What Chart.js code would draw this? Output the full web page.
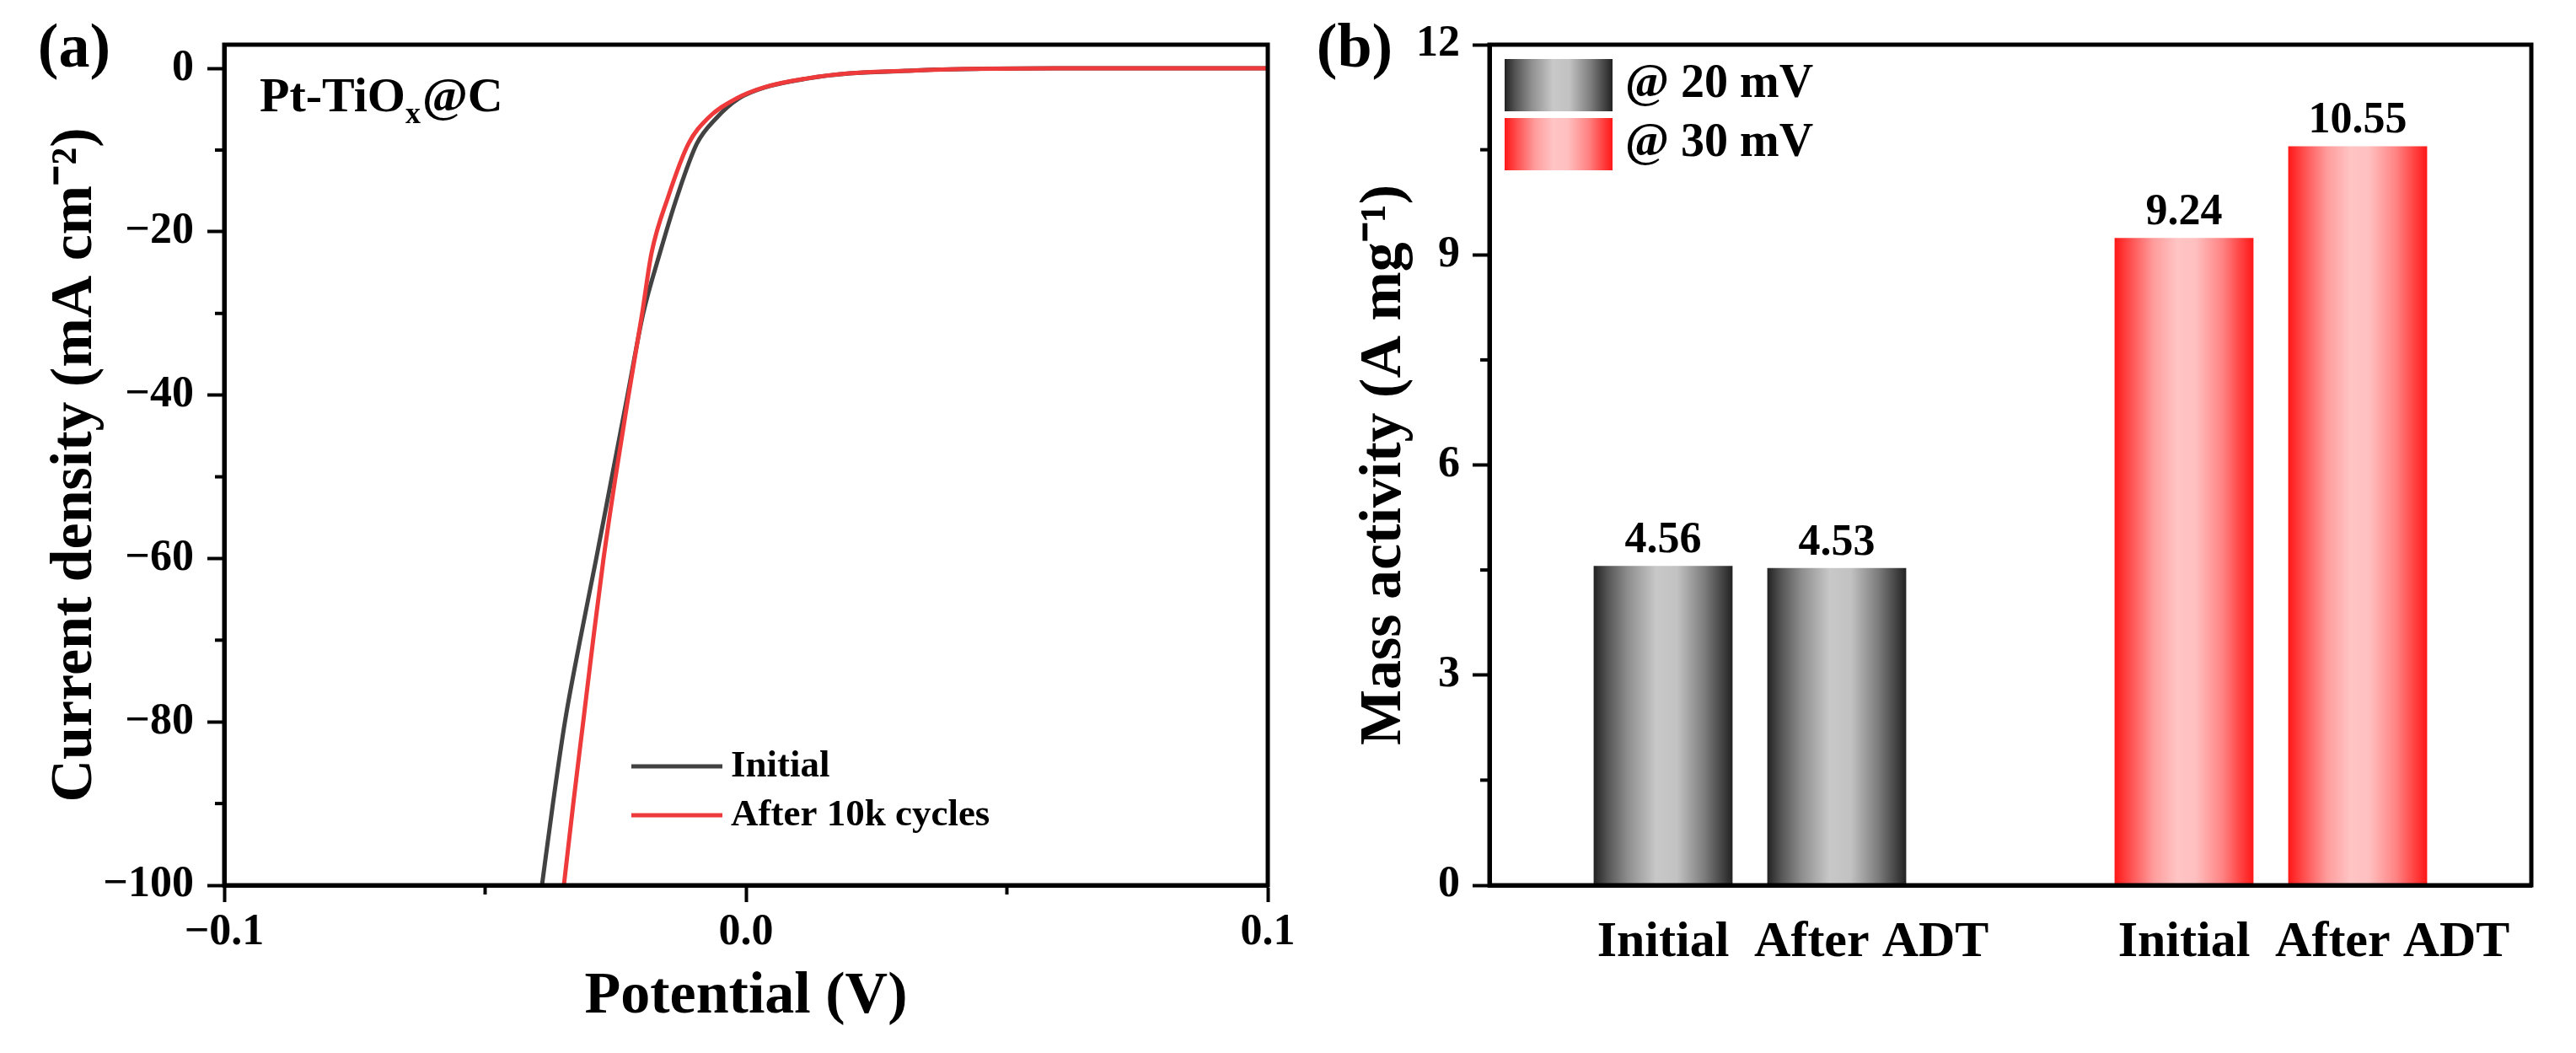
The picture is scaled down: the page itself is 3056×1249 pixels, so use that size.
<!DOCTYPE html>
<html>
<head>
<meta charset="utf-8">
<script src="https://cdn.jsdelivr.net/npm/chart.js@4.4.1/dist/chart.umd.min.js"></script>
<style>
  html, body { margin: 0; padding: 0; background: #fff; }
  #wrap { position: relative; width: 3056px; height: 1249px; }
  #wrap canvas { position: absolute; top: 0; }
  #lsv { left: 0; }
  #mass { left: 1560px; }
</style>
</head>
<body>
<div id="wrap">
  <canvas id="lsv" width="1560" height="1249"></canvas>
  <canvas id="mass" width="1496" height="1249"></canvas>
</div>
<script>
// (a) polarisation curves: potential (V) and current density (mA cm-2)
var potInitial = [-0.0391, -0.0370, -0.0347, -0.0318, -0.0287, -0.0257, -0.0227, -0.0197, -0.0165, -0.0132, -0.0094, -0.0057, -0.0014, 0.0038, 0.0118, 0.0199, 0.0306, 0.0360, 0.0450, 0.0600, 0.1000];
var curInitial = [-100, -90, -80, -70, -60, -50, -40, -30, -22.6, -15.7, -9.2, -6.1, -3.7, -2.3, -1.24, -0.62, -0.31, -0.15, -0.05, 0, 0];
var potCycled = [-0.0349, -0.0331, -0.0312, -0.0293, -0.0273, -0.0250, -0.0225, -0.0199, -0.0181, -0.0149, -0.0110, -0.0073, -0.0019, 0.0036, 0.0116, 0.0197, 0.0304, 0.0347, 0.0420, 0.0600, 0.1000];
var curCycled = [-100, -90, -80, -70, -60, -50, -40, -30, -22.6, -15.7, -9.2, -6.1, -3.7, -2.3, -1.24, -0.62, -0.31, -0.20, -0.08, 0, 0];

// (b) mass activity (A mg-1)
var groups = ['@ 20 mV', '@ 30 mV'];
var conditions = ['Initial', 'After ADT'];
var mass20 = [4.56, 4.53];
var mass30 = [9.24, 10.55];

var FONT = "'Liberation Serif', 'Times New Roman', serif";
Chart.defaults.font.family = FONT;
Chart.defaults.font.weight = 'bold';
Chart.defaults.color = '#000';

var BAR_PCT = 0.8;
var GRAY = [[0, '#222'], [0.1, '#555'], [0.25, '#8f8f8f'], [0.45, '#c8c8c8'], [0.6, '#c2c2c2'], [0.8, '#7c7c7c'], [0.92, '#464646'], [1, '#222']];
var RED = [[0, '#ff1717'], [0.12, '#ff5252'], [0.28, '#ff9c9c'], [0.45, '#ffc4c4'], [0.58, '#ffc0c0'], [0.78, '#ff8282'], [0.92, '#ff3c3c'], [1, '#ff1717']];

function minus(s) { return String(s).replace('-', '\u2212'); }

function pairs(xs, ys) {
  return xs.map(function (v, i) { return { x: v, y: ys[i] }; });
}

// slot on the group axis: one empty slot between the groups
function slot(g, c) { return g * (conditions.length + 1) + c + 1; }

function barFill(stops) {
  return function (c) {
    var chart = c.chart, xs = chart.scales.x;
    if (!chart.chartArea || !c.parsed || !xs) return stops[3][1];
    var cx = xs.getPixelForValue(c.parsed.x);
    var half = (xs.getPixelForValue(1) - xs.getPixelForValue(0)) * BAR_PCT / 2;
    var g = chart.ctx.createLinearGradient(cx - half, 0, cx + half, 0);
    stops.forEach(function (s) { g.addColorStop(s[0], s[1]); });
    return g;
  };
}

// box around the plot and the short minor ticks
var framePlugin = {
  id: 'frame',
  afterDraw: function (chart, args, opts) {
    var ctx = chart.ctx, a = chart.chartArea;
    ctx.save();
    ctx.strokeStyle = '#000';
    ctx.lineWidth = 5;
    ctx.strokeRect(a.left, a.top, a.right - a.left, a.bottom - a.top);
    ctx.lineWidth = 4;
    (opts.minorX || []).forEach(function (v) {
      var px = chart.scales.x.getPixelForValue(v);
      ctx.beginPath(); ctx.moveTo(px, a.bottom); ctx.lineTo(px, a.bottom + 11); ctx.stroke();
    });
    (opts.minorY || []).forEach(function (v) {
      var py = chart.scales.y.getPixelForValue(v);
      ctx.beginPath(); ctx.moveTo(a.left, py); ctx.lineTo(a.left - 11, py); ctx.stroke();
    });
    ctx.restore();
  }
};

var lsvText = {
  id: 'lsvText',
  afterDraw: function (chart) {
    var ctx = chart.ctx, a = chart.chartArea;
    ctx.save();
    ctx.fillStyle = '#000';
    ctx.font = 'bold 74px ' + FONT;
    ctx.textAlign = 'center';
    ctx.textBaseline = 'middle';
    ctx.fillText('(a)', 88, 60);

    // sample name, x as subscript
    ctx.textAlign = 'left';
    ctx.textBaseline = 'alphabetic';
    var x = a.left + 42, y = a.top + 79;
    ctx.font = 'bold 58px ' + FONT;
    ctx.fillText('Pt-TiO', x, y);
    x += ctx.measureText('Pt-TiO').width;
    ctx.font = 'bold 36px ' + FONT;
    ctx.fillText('x', x, y + 14);
    x += ctx.measureText('x').width + 2;
    ctx.font = 'bold 58px ' + FONT;
    ctx.fillText('@C', x, y);

    // legend
    ctx.font = 'bold 45px ' + FONT;
    ctx.textBaseline = 'middle';
    chart.data.datasets.forEach(function (ds, i) {
      var ly = a.top + 856 + i * 58;
      ctx.strokeStyle = ds.borderColor;
      ctx.lineWidth = 5;
      ctx.beginPath(); ctx.moveTo(a.left + 483, ly); ctx.lineTo(a.left + 591, ly); ctx.stroke();
      ctx.fillText(ds.label, a.left + 601, ly);
    });
    ctx.restore();
  }
};

var massText = {
  id: 'massText',
  afterDraw: function (chart) {
    var ctx = chart.ctx, a = chart.chartArea;
    ctx.save();
    ctx.fillStyle = '#000';
    ctx.font = 'bold 74px ' + FONT;
    ctx.textAlign = 'center';
    ctx.textBaseline = 'middle';
    ctx.fillText('(b)', 47, 60);

    // legend with the same gradients as the bars
    var fills = [GRAY, RED];
    groups.forEach(function (g, i) {
      var bx = a.left + 18, by = a.top + 17 + i * 70, bw = 128, bh = 62;
      var grad = ctx.createLinearGradient(bx, 0, bx + bw, 0);
      fills[i].forEach(function (s) { grad.addColorStop(s[0], s[1]); });
      ctx.fillStyle = grad;
      ctx.fillRect(bx, by, bw, bh);
      ctx.fillStyle = '#000';
      ctx.font = 'bold 56px ' + FONT;
      ctx.textAlign = 'left';
      ctx.fillText(g, bx + bw + 15, by + bh / 2);
    });

    // values above the bars
    ctx.font = 'bold 52px ' + FONT;
    ctx.textAlign = 'center';
    ctx.textBaseline = 'alphabetic';
    chart.data.datasets.forEach(function (ds, di) {
      chart.getDatasetMeta(di).data.forEach(function (bar, i) {
        ctx.fillText(ds.data[i].y.toFixed(2), bar.x, bar.y - 16);
      });
    });
    ctx.restore();
  }
};

var axisBorder = { display: true, width: 5, color: '#000' };
var tickGrid = { drawOnChartArea: false, drawTicks: true, tickLength: 20, tickWidth: 4, tickColor: '#000' };

new Chart(document.getElementById('lsv'), {
  type: 'line',
  data: {
    datasets: [
      { label: 'Initial', data: pairs(potInitial, curInitial), borderColor: '#424242', order: 1 },
      { label: 'After 10k cycles', data: pairs(potCycled, curCycled), borderColor: '#ee3a3a', order: 0 }
    ]
  },
  options: {
    responsive: false,
    animation: false,
    events: [],
    layout: { padding: { left: 0, top: 53, right: 56, bottom: 0 } },
    elements: {
      point: { radius: 0 },
      line: { borderWidth: 5, cubicInterpolationMode: 'monotone', fill: false }
    },
    plugins: {
      legend: { display: false },
      tooltip: { enabled: false },
      frame: { minorX: [-0.05, 0.05], minorY: [-90, -70, -50, -30, -10] }
    },
    scales: {
      x: {
        type: 'linear',
        min: -0.1,
        max: 0.1,
        border: axisBorder,
        grid: tickGrid,
        afterBuildTicks: function (s) { s.ticks = [-0.1, 0, 0.1].map(function (v) { return { value: v }; }); },
        ticks: {
          padding: 5,
          maxRotation: 0,
          minRotation: 0,
          autoSkip: false,
          font: { size: 52 },
          callback: function (v) { return Math.abs(v) < 1e-9 ? '0.0' : minus(v.toFixed(1)); }
        },
        title: { display: true, text: 'Potential (V)', font: { size: 70 }, padding: { top: 0, bottom: 24 } },
        afterFit: function (s) { s.height = 199; }
      },
      y: {
        type: 'linear',
        min: -100,
        max: 2.9,
        border: axisBorder,
        grid: tickGrid,
        afterBuildTicks: function (s) { s.ticks = [-100, -80, -60, -40, -20, 0].map(function (v) { return { value: v }; }); },
        ticks: { padding: 16, font: { size: 52 }, callback: function (v) { return minus(v); } },
        title: { display: true, text: 'Current density (mA cm\u207B\u00B2)', font: { size: 70 }, padding: { top: 48, bottom: 0 } },
        afterFit: function (s) { s.width = 266; }
      }
    }
  },
  plugins: [framePlugin, lsvText]
});

new Chart(document.getElementById('mass'), {
  type: 'bar',
  data: {
    datasets: [
      {
        label: groups[0],
        data: conditions.map(function (c, ci) { return { x: slot(0, ci), y: mass20[ci] }; }),
        backgroundColor: barFill(GRAY)
      },
      {
        label: groups[1],
        data: conditions.map(function (c, ci) { return { x: slot(1, ci), y: mass30[ci] }; }),
        backgroundColor: barFill(RED)
      }
    ]
  },
  options: {
    responsive: false,
    animation: false,
    events: [],
    layout: { padding: { left: 0, top: 53, right: 53, bottom: 0 } },
    datasets: { bar: { grouped: false, barPercentage: BAR_PCT, categoryPercentage: 1, borderWidth: 0 } },
    plugins: {
      legend: { display: false },
      tooltip: { enabled: false },
      frame: { minorY: [1.5, 4.5, 7.5, 10.5] }
    },
    scales: {
      x: {
        type: 'linear',
        offset: false,
        min: 0,
        max: groups.length * (conditions.length + 1),
        border: axisBorder,
        grid: { drawOnChartArea: false, drawTicks: false, offset: false },
        afterBuildTicks: function (s) {
          var t = [];
          groups.forEach(function (g, gi) {
            conditions.forEach(function (c, ci) { t.push({ value: slot(gi, ci) + (ci === 1 ? 0.2 : 0) }); });
          });
          s.ticks = t;
        },
        ticks: {
          padding: 32,
          maxRotation: 0,
          minRotation: 0,
          autoSkip: false,
          font: { size: 60 },
          callback: function (v, i) { return conditions[i % conditions.length]; }
        },
        afterFit: function (s) { s.height = 199; }
      },
      y: {
        type: 'linear',
        min: 0,
        max: 12,
        border: axisBorder,
        grid: tickGrid,
        afterBuildTicks: function (s) { s.ticks = [0, 3, 6, 9, 12].map(function (v) { return { value: v }; }); },
        ticks: { padding: 15, font: { size: 52 } },
        title: { display: true, text: 'Mass activity (A mg\u207B\u00B9)', font: { size: 70 }, padding: { top: 41, bottom: 0 } },
        afterFit: function (s) { s.width = 207; }
      }
    }
  },
  plugins: [framePlugin, massText]
});
</script>
</body>
</html>
